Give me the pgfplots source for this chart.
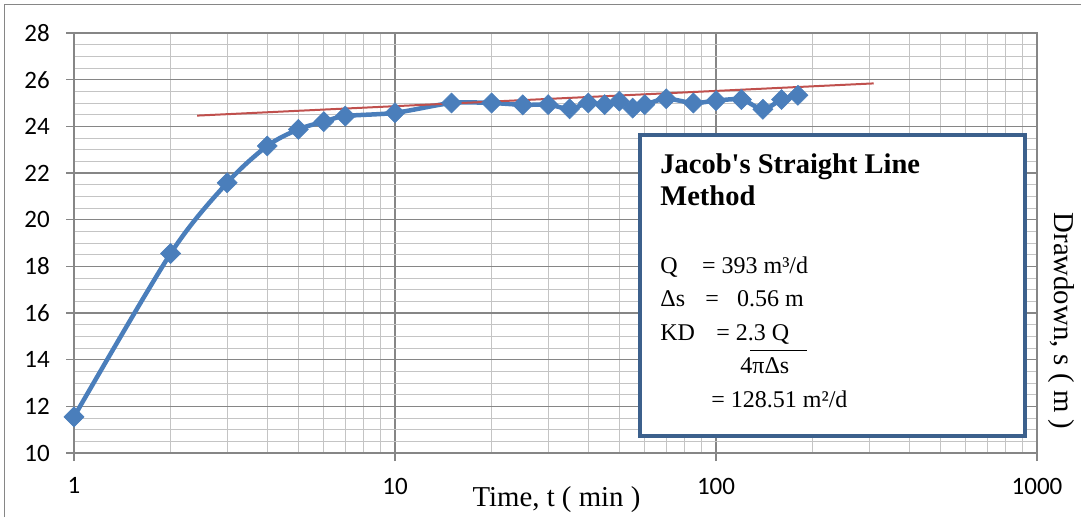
\documentclass[border=0pt]{standalone}
\usepackage{pgfplots}
\pgfplotsset{compat=1.18}
\usepackage{fontspec}
\setmainfont{Liberation Serif}
\newfontfamily\carlito{Carlito}
\definecolor{blueS}{HTML}{4A7EBB}
\definecolor{redS}{HTML}{C0504D}
\definecolor{gmaj}{HTML}{868686}
\definecolor{gmin}{HTML}{C4C4C4}
\definecolor{boxB}{HTML}{3C608C}
\begin{document}
\begin{tikzpicture}
\begin{scope}[x=0.5pt,y=-0.5pt,shift={(-74,-453)}]
\useasboundingbox (0,0) rectangle (1081,517);
\draw[gmaj, line width=0.6pt] (4.5,517) -- (4.5,4.5) -- (1081,4.5);
\end{scope}
\begin{axis}[at={(0,0)}, anchor=south west, scale only axis,
  width=481.5pt, height=210pt,
  xmode=log, log basis x=10, xmin=1, xmax=1000, ymin=10, ymax=28,
  xtick={1,10,100,1000}, xticklabels={1,10,100,1000},
  minor xtick={2,3,4,5,6,7,8,9,20,30,40,50,60,70,80,90,200,300,400,500,600,700,800,900},
  ytick={10,12,14,16,18,20,22,24,26,28}, minor y tick num=3,
  grid=both,
  major grid style={gmaj, line width=0.7pt},
  minor grid style={gmin, line width=0.5pt},
  axis line style={gmaj, line width=0.7pt},
  tick align=outside, major tick length=4pt, minor tick length=0pt,
  tick style={gmaj, line width=0.7pt},
  xtick pos=bottom, ytick pos=left,
  /pgf/number format/assume math mode=true,
  tick label style={font=\carlito\fontsize{12.5}{15}\selectfont, text=black},
  xticklabel style={yshift=-4.9pt},
  yticklabel style={xshift=-4.6pt},
  xlabel={Time, t ( min )},
  xlabel style={at={(axis description cs:0.501,-0.128)}, anchor=base, font=\fontsize{14.4}{17}\selectfont},
  clip=false,
]
\addplot[blueS, line width=2.25pt, smooth, mark=diamond*, mark size=5pt,
  mark options={xscale=1.333, solid, fill=blueS, draw=blueS, line width=0.3pt}]
  coordinates {
  (1,11.55) (2,18.55) (3,21.58) (4,23.16) (5,23.87) (6,24.2) (7,24.44)
  (10,24.58) (15,25.0) (20,25.0) (25,24.92) (30,24.93) (35,24.75) (40,25.0)
  (45,24.93) (50,25.08) (55,24.78) (60,24.93) (70,25.18) (85,25.0) (100,25.1)
  (120,25.15) (140,24.73) (160,25.15) (180,25.33)};
\addplot[redS, line width=1pt] coordinates {(2.42,24.46) (310,25.84)};
\end{axis}
\begin{scope}[x=0.5pt,y=-0.5pt,shift={(-74,-453)}]
\node[rotate=-90, anchor=center, font=\fontsize{14.4}{17}\selectfont] at (1061,321) {Drawdown, s ( m )};
\draw[boxB, line width=2pt, fill=white] (640,135.3) rectangle (1024.7,436);
\begin{scope}[every node/.style={anchor=base west, inner sep=0pt, font=\fontsize{12}{14}\selectfont}]
\node[font=\bfseries\fontsize{14.25}{17}\selectfont] at (660,173.3) {Jacob\textquotesingle s Straight Line};
\node[font=\bfseries\fontsize{14.25}{17}\selectfont] at (660,205) {Method};
\node at (660,273) {Q};
\node at (701.7,273) {= 393 m³/d};
\node at (660,306.7) {Δs};
\node at (705,306.7) {=};
\node at (736.7,306.7) {0.56 m};
\node at (660,340) {KD};
\node at (716,340) {= 2.3 Q};
\node at (740,373.3) {4πΔs};
\node at (711,407.3) {= 128.51 m²/d};
\end{scope}
\draw[black, line width=0.5pt] (750,350.7) -- (806.7,350.7);
\end{scope}
\end{tikzpicture}
\end{document}
